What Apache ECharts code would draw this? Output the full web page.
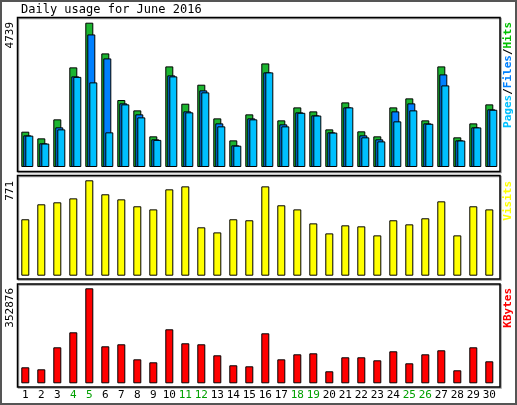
<!DOCTYPE html>
<html>
<head>
<meta charset="utf-8">
<script src="https://cdn.jsdelivr.net/npm/echarts@6/dist/echarts.min.js"></script>
<style>html,body{margin:0;padding:0;background:#fff}#c{width:517px;height:405px}</style>
</head>
<body>
<div id="c"></div>
<script>
const days = ['1','2','3','4','5','6','7','8','9','10','11','12','13','14','15','16','17','18','19','20','21','22','23','24','25','26','27','28','29','30'];
const weekendDays = ['4','5','11','12','18','19','25','26'];
const hits = [1160,941,1565,3272,4739,3731,2199,1860,1007,3304,2079,2703,1597,875,1729,3402,1532,1958,1827,1236,2122,1171,1007,1958,2254,1532,3304,974,1433,2057];
const files = [1039,777,1302,2976,4354,3566,2090,1729,908,3009,1827,2516,1433,711,1597,3107,1400,1794,1696,1138,1958,1039,908,1827,2090,1433,3041,875,1302,1893];
const pages = [1030,770,1236,2960,2779,1138,2057,1630,890,2976,1794,2451,1335,700,1565,3107,1335,1780,1690,1130,1958,974,842,1499,1860,1420,2680,870,1300,1880];
const visits = [456,577,593,625,771,658,617,561,536,698,722,391,350,456,448,722,569,536,423,342,407,399,326,448,415,464,601,326,561,536];
const kbytes = [59430,52000,133700,189400,352876,137400,144900,89100,78000,200600,148600,144900,104000,66900,63100,185700,89100,107700,111400,44600,96600,96600,85400,118900,74300,107700,122600,48300,133700,81700];

const mono = '"DejaVu Sans Mono", monospace';
const chart = echarts.init(document.getElementById('c'));

const boxes = [[17.5, 17.5, 482.5, 154], [17.5, 175.5, 482.5, 103.5], [17.5, 284, 482.5, 103]];
const graphic = [
  { type: 'rect', shape: { x: 1, y: 1, width: 515, height: 403 }, style: { fill: 'none', stroke: '#555', lineWidth: 2 } },
  { type: 'text', left: 21, top: 4, style: { text: 'Daily usage for June 2016', font: '12px ' + mono, fill: '#000' } },
];
boxes.forEach((b) => {
  graphic.push({ type: 'rect', z: -1, shape: { x: b[0] + 1, y: b[1] + 1, width: b[2], height: b[3] }, style: { fill: 'none', stroke: '#999', lineWidth: 1.5 } });
  graphic.push({ type: 'rect', z: -1, shape: { x: b[0], y: b[1], width: b[2], height: b[3] }, style: { fill: 'none', stroke: '#000', lineWidth: 1.5 } });
});

// rotated side labels (reading bottom to top)
const sideLabel = (x, yTop, text, rich, fill) => ({
  type: 'text', x: x, y: yTop, rotation: Math.PI / 2,
  style: { text: text, rich: rich, fill: fill, font: '11px ' + mono, align: 'right', verticalAlign: 'middle' },
});
graphic.push(sideLabel(10, 22, '4739', null, '#000'));
graphic.push(sideLabel(10, 181, '771', null, '#000'));
graphic.push(sideLabel(10, 288, '352876', null, '#000'));
const shadow = { textShadowColor: '#999', textShadowOffsetX: 1, textShadowOffsetY: 1, textShadowBlur: 0 };
graphic.push(sideLabel(508, 22, '{p|Pages}{b|/}{f|Files}{b|/}{h|Hits}', {
  p: { fill: '#00c0ff', font: 'bold 11px ' + mono, ...shadow },
  f: { fill: '#0080ff', font: 'bold 11px ' + mono, ...shadow },
  h: { fill: '#00c000', font: 'bold 11px ' + mono, ...shadow },
  b: { fill: '#000', font: 'bold 11px ' + mono, ...shadow },
}, '#000'));
graphic.push(sideLabel(508, 181, '{v|Visits}', { v: { fill: '#ffff00', font: 'bold 11px ' + mono, ...shadow } }, '#000'));
graphic.push(sideLabel(508, 288, '{k|KBytes}', { k: { fill: '#ff0000', font: 'bold 11px ' + mono, ...shadow } }, '#000'));

const catAxis = (gi, showLabels) => ({
  type: 'category', gridIndex: gi, data: days, boundaryGap: true,
  axisLine: { show: false }, axisTick: { show: false }, splitLine: { show: false },
  axisLabel: {
    show: showLabels, margin: 6, fontFamily: mono, fontSize: 11, interval: 0,
    color: (v) => (weekendDays.includes(v) ? '#00a000' : '#000'),
  },
});
const valAxis = (gi, max) => ({
  type: 'value', gridIndex: gi, min: 0, max: max,
  axisLine: { show: false }, axisTick: { show: false }, axisLabel: { show: false }, splitLine: { show: false },
});
const barStyle = (c) => ({ color: c, borderColor: '#000', borderWidth: 1 });

chart.setOption({
  animation: false,
  graphic: graphic,
  grid: [
    { left: 19.3, width: 480, top: 22.7, height: 144.3 },
    { left: 17.3, width: 480, top: 180.3, height: 95.4 },
    { left: 17.3, width: 480, top: 288.3, height: 95 },
  ],
  xAxis: [catAxis(0, false), catAxis(1, false), catAxis(2, true)],
  yAxis: [valAxis(0, 4739), valAxis(1, 771), valAxis(2, 352876)],
  series: [
    { name: 'Hits', type: 'bar', xAxisIndex: 0, yAxisIndex: 0, data: hits, barWidth: 8, barGap: '-75%', itemStyle: barStyle('#1cb530') },
    { name: 'Files', type: 'bar', xAxisIndex: 0, yAxisIndex: 0, data: files, barWidth: 8, barGap: '-75%', itemStyle: barStyle('#0080ff') },
    { name: 'Pages', type: 'bar', xAxisIndex: 0, yAxisIndex: 0, data: pages, barWidth: 8, barGap: '-75%', itemStyle: barStyle('#00c0ff') },
    { name: 'Visits', type: 'bar', xAxisIndex: 1, yAxisIndex: 1, data: visits, barWidth: 8, itemStyle: barStyle('#ffff00') },
    { name: 'KBytes', type: 'bar', xAxisIndex: 2, yAxisIndex: 2, data: kbytes, barWidth: 8, itemStyle: barStyle('#ff0000') },
  ],
});
</script>
</body>
</html>
